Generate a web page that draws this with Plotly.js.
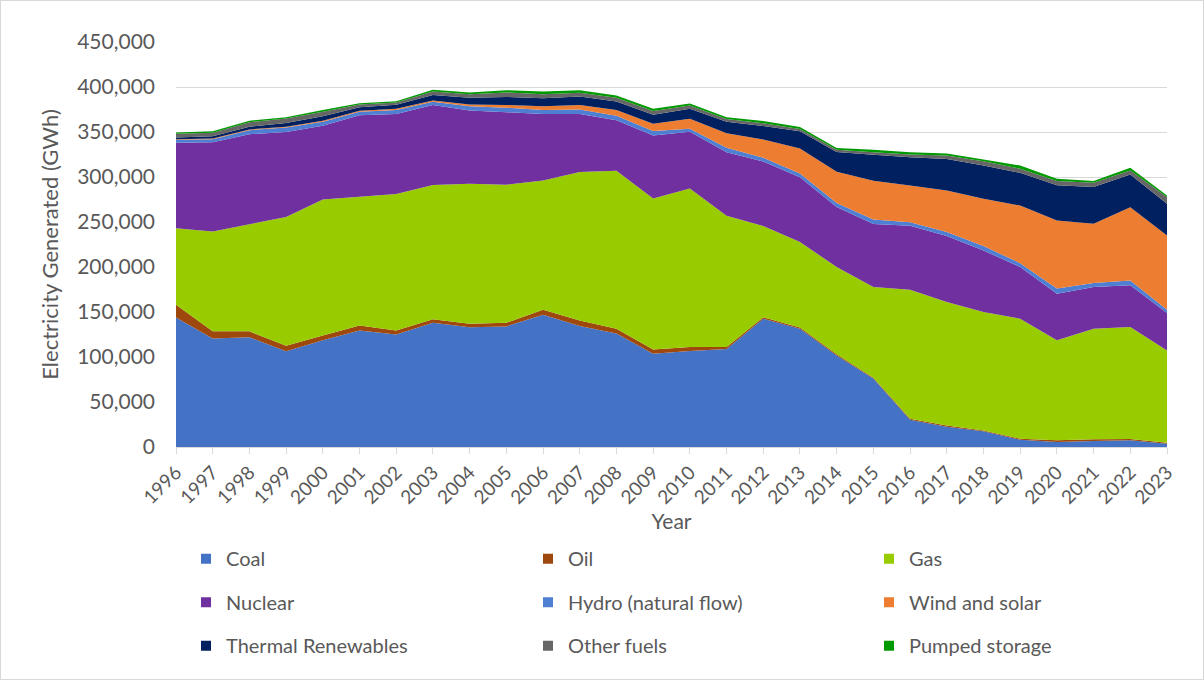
<!DOCTYPE html>
<html>
<head>
<meta charset="utf-8">
<script src="https://cdn.plot.ly/plotly-3.0.1.min.js"></script>
<style>
    html, body { margin: 0; padding: 0; background: #ffffff; }
    #chart { width: 1202px; height: 678px; border: 1px solid #d9d9d9; }
</style>
</head>
<body>
<div id="chart"></div>
<script>
const YEARS = [1996, 1997, 1998, 1999, 2000, 2001, 2002, 2003, 2004, 2005, 2006, 2007, 2008, 2009,
               2010, 2011, 2012, 2013, 2014, 2015, 2016, 2017, 2018, 2019, 2020, 2021, 2022, 2023];

// GWh
const COAL    = [144000, 120500, 122000, 106500, 118500, 129500, 125000, 138000, 133000, 134000, 147000, 134500, 126000, 103700,
                 106700, 109000, 142600, 131500, 101800, 76000, 30400, 22500, 17400, 8000, 5500, 6700, 7400, 3700];
const OIL     = [14000, 8000, 6500, 6000, 5500, 5500, 4500, 4000, 4000, 4000, 5500, 6000, 5500, 4500,
                 4500, 2000, 1500, 1300, 1200, 1000, 1100, 1500, 1000, 1200, 2000, 1800, 1500, 1000];
const GAS     = [85000, 111000, 119000, 143000, 151000, 143000, 151500, 149000, 155500, 153500, 143500, 165000, 175500, 168000,
                 176000, 146000, 101500, 95000, 97000, 100800, 143300, 137000, 131500, 133300, 111000, 123000, 124400, 102600];
const NUCLEAR = [95000, 99000, 100000, 94500, 82000, 90500, 89000, 89000, 81500, 80500, 74000, 64500, 56000, 70000,
                 63000, 70500, 71700, 72000, 66700, 70000, 71000, 73400, 68500, 57400, 51900, 46300, 46300, 41500];
const HYDRO   = [3500, 3500, 4500, 5000, 4500, 4000, 4500, 3500, 4500, 5000, 4500, 5000, 5000, 5000,
                 3500, 5000, 4000, 4000, 4500, 5000, 4000, 4600, 4800, 4400, 5600, 4400, 5500, 3700];
const WIND    = [500, 700, 900, 900, 1000, 1000, 1300, 1500, 2000, 3000, 4000, 5000, 6500, 8000,
                 11000, 16000, 20500, 28000, 34500, 43000, 40700, 46000, 52600, 64000, 75800, 65800, 81400, 82600];
const THERMAL = [2000, 2500, 3000, 4000, 5000, 4000, 4500, 6000, 7500, 9000, 9000, 9500, 9500, 10000,
                 11000, 13000, 15000, 19000, 22000, 29000, 31500, 35000, 37000, 36300, 38900, 40900, 36300, 35200];
const OTHER   = [4000, 4000, 5000, 5000, 5000, 3000, 2500, 4000, 4000, 5000, 4500, 4000, 4000, 4000,
                 3700, 3000, 3000, 2600, 2600, 2700, 3000, 4000, 4800, 4500, 4800, 4800, 4400, 7400];
const PUMPED  = [1500, 1500, 1600, 1500, 2000, 1500, 1500, 2000, 2000, 2500, 3000, 3000, 2500, 2500,
                 2200, 2000, 2500, 2200, 1800, 2700, 2600, 2000, 1800, 3700, 2500, 1800, 3000, 1800];

const SERIES = [
    { name: "Coal",                  values: COAL,    color: "#4472C4", legend: "legend"  },
    { name: "Oil",                   values: OIL,     color: "#9E480E", legend: "legend2" },
    { name: "Gas",                   values: GAS,     color: "#99CC00", legend: "legend3" },
    { name: "Nuclear",               values: NUCLEAR, color: "#7030A0", legend: "legend"  },
    { name: "Hydro (natural flow)",  values: HYDRO,   color: "#4F7FD3", legend: "legend2" },
    { name: "Wind and solar",        values: WIND,    color: "#ED7D31", legend: "legend3" },
    { name: "Thermal Renewables",    values: THERMAL, color: "#002060", legend: "legend"  },
    { name: "Other fuels",           values: OTHER,   color: "#666666", legend: "legend2" },
    { name: "Pumped storage",        values: PUMPED,  color: "#009A00", legend: "legend3" }
];

const FONT = "Lato, 'Open Sans', sans-serif";
const GREY = "#595959";

// the stacked areas themselves
let areas = SERIES.map(s => ({
    type: "scatter",
    x: YEARS,
    y: s.values,
    name: s.name,
    stackgroup: "one",
    mode: "none",
    fillcolor: s.color,
    legendgroup: s.name,
    showlegend: false,
    hoverinfo: "x+y+name"
}));

// square swatches for the Excel-style legend
let keys = SERIES.map(s => ({
    type: "scatter",
    x: [null],
    y: [null],
    name: s.name,
    mode: "markers",
    marker: { symbol: "square", size: 10, color: s.color },
    legend: s.legend,
    legendgroup: s.name,
    hoverinfo: "skip"
}));

let data = areas.concat(keys);

function legendAt(x) {
    return {
        x: x, y: -0.2275,
        xanchor: "left", yanchor: "top",
        orientation: "v",
        tracegroupgap: 14.5,
        font: { family: FONT, size: 20, color: GREY },
        bgcolor: "rgba(0,0,0,0)"
    };
}

let layout = {
    width: 1202,
    height: 678,
    margin: { l: 175, r: 36, t: 41, b: 232 },
    paper_bgcolor: "#ffffff",
    plot_bgcolor: "#ffffff",
    font: { family: FONT, color: GREY },
    showlegend: true,
    legend: legendAt(0.0101),
    legend2: legendAt(0.3552),
    legend3: legendAt(0.6993),
    xaxis: {
        range: [1996, 2023],
        tickmode: "linear",
        tick0: 1996,
        dtick: 1,
        tickangle: -45,
        ticks: "outside",
        ticklen: 6,
        tickcolor: "#d9d9d9",
        showline: true,
        linecolor: "#d9d9d9",
        showgrid: false,
        zeroline: false,
        tickfont: { family: FONT, size: 19, color: GREY },
        title: { text: "Year", font: { family: FONT, size: 21, color: GREY }, standoff: 2 }
    },
    yaxis: {
        range: [0, 450000],
        tickmode: "linear",
        dtick: 50000,
        tickformat: ",",
        showgrid: true,
        gridcolor: "#d9d9d9",
        gridwidth: 1,
        zeroline: false,
        showline: false,
        ticklabelstandoff: 20,
        tickfont: { family: FONT, size: 21, color: GREY },
        title: { text: "Electricity Generated (GWh)", font: { family: FONT, size: 22, color: GREY }, standoff: 12 }
    }
};

Plotly.newPlot("chart", data, layout, { displayModeBar: false, responsive: false });
</script>
</body>
</html>
